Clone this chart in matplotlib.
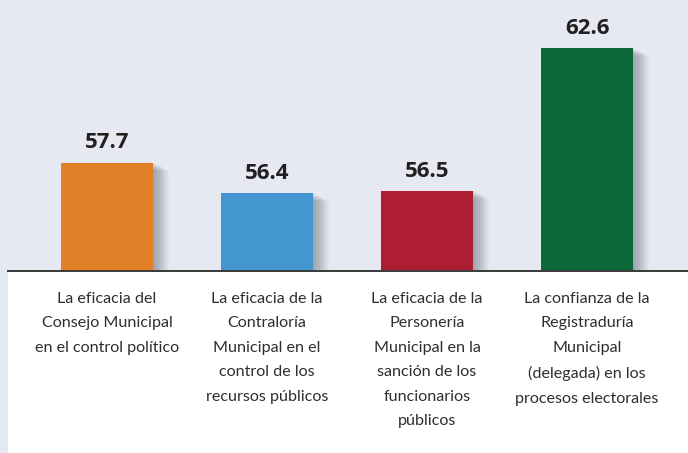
import matplotlib
matplotlib.use("Agg")
import matplotlib.pyplot as plt
from matplotlib.patches import Rectangle
import numpy as np

categories = [
    "La eficacia del\nConsejo Municipal\nen el control político",
    "La eficacia de la\nContraloría\nMunicipal en el\ncontrol de los\nrecursos públicos",
    "La eficacia de la\nPersonería\nMunicipal en la\nsanción de los\nfuncionarios\npúblicos",
    "La confianza de la\nRegistraduría\nMunicipal\n(delegada) en los\nprocesos electorales",
]
values = [57.7, 56.4, 56.5, 62.6]
colors = ["#e07f26", "#4396d0", "#ae1e33", "#0c6838"]

W, H = 688, 453
fig = plt.figure(figsize=(W / 100, H / 100), dpi=100)
fig.patch.set_facecolor("white")

# left light-blue strip
fig.add_artist(Rectangle((0, 0), 8 / W, 1, transform=fig.transFigure,
                         facecolor="#e2e9f3", edgecolor="none", zorder=0))

base_px = 271
ax = fig.add_axes([0, 1 - base_px / H, 1, base_px / H])
ax.set_facecolor("#e6e9f1")
ymin = 53.08
ymax = 62.6 + 48 / 23.4
ax.set_ylim(ymin, ymax)
x0 = 107 / 160
ax.set_xlim(-x0, (W - 107) / 160)
for s in ax.spines.values():
    s.set_visible(False)
ax.set_xticks([])
ax.set_yticks([])

x = np.arange(len(values))
bw = 92 / 160

# soft shadows
for k in range(14):
    off = 0.007 * (k + 1)
    ax.bar(x + off, np.array(values) - ymin - 0.025 * k, bottom=ymin,
           width=bw, color="#4a5262", alpha=0.04, zorder=1, linewidth=0)

ax.bar(x, np.array(values) - ymin, bottom=ymin, width=bw, color=colors,
       zorder=3, linewidth=0)

for xi, v in zip(x, values):
    ax.text(xi, v + 0.40, f"{v:.1f}", ha="center", va="bottom",
            fontsize=16, fontweight="bold", color="#231f20",
            family="Open Sans", zorder=4)

# baseline
fig.add_artist(plt.Line2D([8 / W, 1], [1 - base_px / H] * 2,
                          transform=fig.transFigure, color="#3a3a3a",
                          linewidth=1.4, zorder=5))

for xi, lab in zip(x, categories):
    px = 107 + 160 * xi
    fig.text(px / W, 1 - 292 / H, lab, ha="center", va="top",
             fontsize=11.6, color="#2e2e2e", family="Lato",
             linespacing=1.95)

fig.savefig("out.png", dpi=100)
